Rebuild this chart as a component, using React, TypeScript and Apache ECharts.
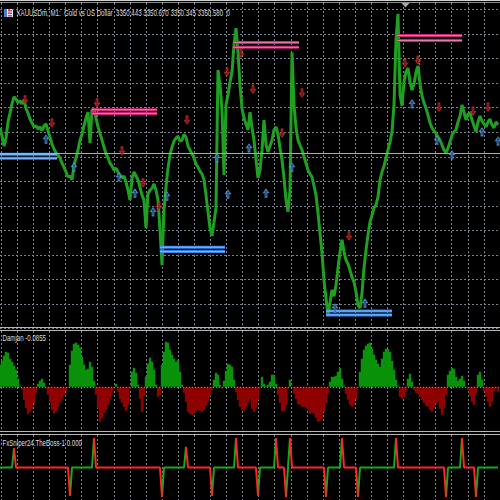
import React, { useEffect, useRef } from "react";
import * as echarts from "echarts";

// ---- data (bar index 0..249, one bar = 2px) ----
const closePrices = [
  3351.09, 3350.92, 3350.72, 3350.88, 3351.21, 3351.39, 3351.58, 3351.72, 3351.68, 3351.60,
  3351.64, 3351.58, 3351.66, 3351.49, 3351.39, 3351.27, 3351.19, 3351.11, 3351.13, 3351.07,
  3351.11, 3351.03, 3351.13, 3351.17, 3351.03, 3350.90, 3350.76, 3350.66, 3350.58, 3350.54,
  3350.48, 3350.37, 3350.29, 3350.19, 3350.09, 3350.11, 3350.03, 3350.33, 3350.48, 3350.64,
  3350.84, 3350.96, 3351.13, 3351.29, 3351.41, 3350.78, 3351.45, 3351.49, 3351.29, 3351.11,
  3350.98, 3350.84, 3350.70, 3350.56, 3350.48, 3350.37, 3350.31, 3350.23, 3350.27, 3350.19,
  3350.13, 3350.07, 3350.11, 3349.99, 3349.82, 3349.62, 3350.07, 3350.19, 3350.11, 3350.03,
  3349.88, 3349.72, 3349.62, 3349.05, 3349.74, 3349.82, 3349.86, 3349.95, 3349.82, 3349.62,
  3349.01, 3348.30, 3349.42, 3349.88, 3350.27, 3350.54, 3350.70, 3350.82, 3350.88, 3350.92,
  3350.82, 3350.84, 3350.96, 3350.90, 3350.72, 3350.64, 3350.56, 3350.48, 3350.35, 3350.29,
  3350.21, 3350.15, 3350.03, 3349.72, 3349.38, 3349.05, 3348.89, 3349.17, 3349.46, 3352.27,
  3351.96, 3351.45, 3350.13, 3351.56, 3351.76, 3352.02, 3352.23, 3352.78, 3353.12, 3352.63,
  3351.96, 3351.49, 3351.29, 3351.17, 3351.05, 3351.41, 3351.09, 3350.84, 3350.44, 3350.07,
  3350.23, 3350.64, 3351.25, 3350.74, 3350.60, 3350.72, 3350.84, 3351.05, 3351.11, 3350.96,
  3350.68, 3350.44, 3350.07, 3349.62, 3349.38, 3349.82, 3352.63, 3351.56, 3351.09, 3350.84,
  3350.74, 3350.64, 3350.50, 3350.37, 3350.23, 3350.15, 3350.09, 3349.91, 3349.72, 3349.36,
  3348.95, 3348.54, 3347.99, 3347.62, 3347.28, 3347.54, 3347.79, 3347.66, 3347.89, 3348.24,
  3348.56, 3348.81, 3348.56, 3348.40, 3348.32, 3348.19, 3348.05, 3347.95, 3347.75, 3347.48,
  3347.42, 3347.73, 3348.24, 3348.60, 3348.91, 3349.17, 3349.31, 3349.46, 3349.52, 3349.68,
  3350.03, 3350.19, 3350.31, 3350.48, 3350.64, 3350.80, 3351.01, 3351.56, 3352.88, 3353.41,
  3351.76, 3351.54, 3352.02, 3352.23, 3352.31, 3352.02, 3351.86, 3351.98, 3352.23, 3352.35,
  3351.98, 3351.74, 3351.60, 3351.49, 3351.35, 3351.19, 3351.09, 3351.03, 3350.98, 3350.90,
  3350.84, 3350.74, 3350.64, 3350.58, 3350.68, 3350.80, 3350.94, 3351.01, 3351.05, 3351.21,
  3351.33, 3351.56, 3351.41, 3351.25, 3351.37, 3351.39, 3351.25, 3351.13, 3351.01, 3351.21,
  3351.33, 3351.23, 3351.17, 3351.11, 3351.21, 3351.27, 3351.15, 3351.09, 3351.21, 3351.15,
];

const damjanValues = [
  0.374, 0.442, 0.527, 0.595, 0.578, 0.476, 0.425, 0.357, 0.289, 0.136,
  0.017, -0.051, -0.221, -0.357, -0.459, -0.425, -0.391, -0.272, -0.102, 0.051,
  0.102, 0.136, 0.068, -0.034, -0.136, -0.255, -0.391, -0.459, -0.425, -0.34,
  -0.255, -0.204, -0.136, -0.068, -0.017, 0.374, 0.612, 0.731, 0.748, 0.714,
  0.663, 0.51, 0.374, 0.289, 0.306, 0.425, 0.34, 0.102, -0.136, -0.374,
  -0.595, -0.527, -0.442, -0.391, -0.306, -0.204, -0.102, -0.034, 0.051, -0.085,
  -0.204, -0.272, -0.34, -0.408, -0.306, -0.034, 0.255, 0.323, 0.238, 0.034,
  -0.204, -0.425, -0.153, 0.17, 0.391, 0.493, 0.425, 0.289, 0.034, -0.17,
  -0.136, 0.374, 0.595, 0.765, 0.748, 0.629, 0.544, 0.476, 0.425, 0.459,
  0.255, 0.034, -0.102, -0.255, -0.425, -0.459, -0.476, -0.442, -0.408, -0.391,
  -0.408, -0.425, -0.391, -0.323, -0.255, -0.153, -0.051, 0.119, 0.238, 0.204,
  0.034, -0.034, 0.102, 0.272, 0.391, 0.374, 0.34, 0.119, -0.085, -0.221,
  -0.34, -0.391, -0.408, -0.34, -0.272, -0.204, -0.374, -0.425, -0.357, -0.221,
  -0.034, 0.17, 0.051, 0.017, 0.034, 0.085, 0.204, 0.204, 0.051, -0.136,
  -0.272, -0.408, -0.425, -0.306, -0.034, 0.119, -0.017, -0.119, -0.204, -0.289,
  -0.306, -0.34, -0.34, -0.357, -0.391, -0.459, -0.442, -0.459, -0.527, -0.595,
  -0.578, -0.544, -0.425, -0.272, -0.102, 0.085, 0.17, 0.17, 0.187, 0.255,
  0.323, 0.136, 0.017, -0.119, -0.221, -0.306, -0.34, -0.306, -0.204, -0.017,
  0.255, 0.476, 0.629, 0.697, 0.731, 0.748, 0.646, 0.544, 0.459, 0.391,
  0.34, 0.476, 0.595, 0.646, 0.646, 0.595, 0.442, 0.289, 0.119, 0.017,
  -0.17, -0.204, -0.17, -0.085, 0.136, 0.221, 0.085, -0.051, -0.102, -0.119,
  -0.17, -0.221, -0.272, -0.323, -0.34, -0.391, -0.425, -0.357, -0.289, -0.255,
  -0.374, -0.476, -0.357, -0.136, 0.204, 0.272, 0.323, 0.306, 0.17, 0.102,
  0.136, 0.187, 0.102, -0.017, -0.051, -0.153, -0.255, -0.306, -0.119, 0.204,
  0.255, 0.119, -0.068, -0.17, -0.255, -0.34, -0.255, -0.068, -0.034, -0.0855,
];

// [bar index, spike value]; every spike flips the line colour (green <-> red)
const sniperSpikes: [number, number][] = [
  [7, 0.65], [35, -0.95], [47, 1], [81, -1], [93, 0.7], [106, -0.95],
  [118, 1], [129, -0.95], [138, 1], [143, -1], [145, 1], [163, -1],
  [171, 1], [179, -1], [198, 1], [223, -1], [231, 1], [238, -1],
];

// signal arrows [bar index, price]
const sellSignals: [number, number][] = [
  [12.5, 3351.66], [26, 3351.19], [48.5, 3351.6], [61, 3350.62], [71.5, 3349.97],
  [79.5, 3349.5], [93.5, 3351.25], [113.5, 3352.23], [120.5, 3352.61], [126.5, 3351.88],
  [141, 3350.98], [151, 3351.8], [174.5, 3348.89], [202.5, 3352.41], [209, 3352.47],
  [219.5, 3351.51], [236.5, 3351.43], [244, 3351.51],
];
const buySignals: [number, number][] = [
  [23, 3350.86], [37, 3350.29], [59.5, 3350.09], [67.5, 3349.76], [76.5, 3349.38],
  [83.5, 3349.7], [108.5, 3350.48], [114, 3349.74], [124.5, 3350.68], [133, 3349.76],
  [146, 3350.29], [167.5, 3347.42], [182.5, 3347.52], [206, 3351.58], [218.5, 3350.84],
  [226, 3350.54], [241, 3351.01], [249, 3350.82],
];

// support / resistance zones: [from bar, to bar, upper price, lower price]
const supportLevels: [number, number, number, number][] = [
  [0, 28.5, 3350.55, 3350.47],
  [80, 112.5, 3348.66, 3348.57],
  [163, 196, 3347.36, 3347.28],
];
const resistanceLevels: [number, number, number, number][] = [
  [46, 78.5, 3351.46, 3351.38],
  [116.5, 149.5, 3352.83, 3352.73],
  [198.5, 231, 3352.97, 3352.87],
];

const bidPrice = 3350.58;
const titleText = "XAUUSDm, M1:  Gold vs US Dollar  3350.443 3350.670 3350.345 3350.580  0";
const damjanLabel = "Damjan -0.0855";
const sniperLabel = "FxSniper24.TheBoss-1 0.000";

const GRID_COLOR = "#77808c";
const PRICE_GREEN = "#20a020";

function buildOption() {
  const n = damjanValues.length;

  // sniper line split into coloured runs
  const sniperValues: number[] = new Array(n).fill(0);
  sniperSpikes.forEach(([i, v]) => (sniperValues[i] = v));
  const segColor: string[] = [];
  let state = "g";
  let k = 0;
  for (let i = 0; i < n - 1; i++) {
    while (k < sniperSpikes.length && sniperSpikes[k][0] <= i) {
      state = state === "g" ? "r" : "g";
      k++;
    }
    segColor[i] = state;
  }
  const runData = (c: string) =>
    sniperValues.map((v, i) =>
      segColor[i - 1] === c || segColor[i] === c ? [i, v] : [i, null]
    );

  const levelSeries: any[] = [];
  const addLevels = (levels: [number, number, number, number][], outer: string, inner: string) => {
    levels.forEach(([a, b, up, lo]) => {
      [up, lo].forEach((p) => {
        levelSeries.push({
          type: "line", xAxisIndex: 0, yAxisIndex: 0, symbol: "none", silent: true, z: 4,
          data: [[a, p], [b, p]], lineStyle: { color: outer, width: 3 },
        });
        levelSeries.push({
          type: "line", xAxisIndex: 0, yAxisIndex: 0, symbol: "none", silent: true, z: 5,
          data: [[a, p], [b, p]], lineStyle: { color: inner, width: 1 },
        });
      });
    });
  };
  addLevels(supportLevels, "#2f7fe6", "#8cc2ff");
  addLevels(resistanceLevels, "#c4246f", "#f07ab4");

  const dashed = { show: true, lineStyle: { color: GRID_COLOR, type: [2, 2], width: 1 } };
  const hiddenX = (gi: number) => ({ type: "value", gridIndex: gi, min: 0, max: 250, show: false });
  const vGridX = (gi: number) => ({
    type: "value", gridIndex: gi, min: 0, max: 31, interval: 1,
    axisLine: { show: false }, axisTick: { show: false }, axisLabel: { show: false },
    splitLine: dashed,
  });

  const upArrow = "path://M4,0L8,4L5.6,4L5.6,9L2.4,9L2.4,4L0,4Z";
  const downArrow = "path://M2.4,0L5.6,0L5.6,5L8,5L4,9L0,5L2.4,5Z";

  const txt = (x: number, y: number, text: string) => ({
    type: "text", x, y, scaleX: 0.68, z: 50,
    style: {
      text, fill: "#dedede", fontSize: 9, fontFamily: "Liberation Sans, Arial, sans-serif",
      verticalAlign: "middle",
    },
  });
  const hline = (y: number, color: string) => ({
    type: "line", z: 40, shape: { x1: 0, y1: y, x2: 500, y2: y }, style: { stroke: color, lineWidth: 1 },
  });

  return {
    animation: false,
    backgroundColor: "#000000",
    grid: [
      { left: 0, right: 0, top: 9.5, height: 319.2 },
      { left: 0, right: 0, top: 332, height: 99 },
      { left: 0, right: 0, top: 435, height: 65 },
      { left: 1.2, right: -1.2, top: 3, height: 324 },
      { left: 1.2, right: -1.2, top: 331, height: 100 },
      { left: 1.2, right: -1.2, top: 435, height: 65 },
    ],
    xAxis: [hiddenX(0), hiddenX(1), hiddenX(2), vGridX(3), vGridX(4), vGridX(5)],
    yAxis: [
      {
        type: "value", gridIndex: 0, min: 3347.0, max: 3353.5, interval: 0.5,
        axisLine: { show: false }, axisTick: { show: false }, axisLabel: { show: false },
        splitLine: dashed,
      },
      { type: "value", gridIndex: 1, min: -0.75, max: 0.93, show: false },
      { type: "value", gridIndex: 2, min: -1.1, max: 1.1, show: false },
      { type: "value", gridIndex: 3, min: 0, max: 1, show: false },
      { type: "value", gridIndex: 4, min: 0, max: 1, show: false },
      { type: "value", gridIndex: 5, min: 0, max: 1, show: false },
    ],
    series: [
      {
        type: "line", name: "XAUUSDm", xAxisIndex: 0, yAxisIndex: 0, z: 3,
        data: closePrices.map((p, i) => [i, p]),
        showSymbol: false, symbol: "none",
        lineStyle: { color: PRICE_GREEN, width: 3 },
        markLine: {
          silent: true, symbol: "none", label: { show: false },
          lineStyle: { color: "#a9a9a9", type: "solid", width: 1 },
          data: [{ yAxis: bidPrice }],
        },
      },
      ...levelSeries,
      {
        type: "scatter", name: "sell", xAxisIndex: 0, yAxisIndex: 0, z: 6,
        data: sellSignals, symbol: downArrow, symbolSize: [5, 8],
        itemStyle: { color: "#8a1414", borderColor: "#cc3030", borderWidth: 1 },
      },
      {
        type: "scatter", name: "buy", xAxisIndex: 0, yAxisIndex: 0, z: 6,
        data: buySignals, symbol: upArrow, symbolSize: [5, 8],
        itemStyle: { color: "#1d4a7e", borderColor: "#5b9fe2", borderWidth: 1 },
      },
      {
        type: "bar", name: "Damjan", xAxisIndex: 1, yAxisIndex: 1, barWidth: 2.4,
        data: damjanValues.map((v, i) => [i, v]),
        itemStyle: { color: (p: any) => (p.value[1] >= 0 ? "#0a920a" : "#8e0202") },
        markLine: {
          silent: true, symbol: "none", label: { show: false },
          lineStyle: { color: "#8a8a8a", type: [1, 2], width: 1 },
          data: [{ yAxis: 0 }],
        },
      },
      {
        type: "line", name: "sniper-green", xAxisIndex: 2, yAxisIndex: 2, symbol: "none",
        data: runData("g"), lineStyle: { color: "#1ca61c", width: 2 }, z: 3,
      },
      {
        type: "line", name: "sniper-red", xAxisIndex: 2, yAxisIndex: 2, symbol: "none",
        data: runData("r"), lineStyle: { color: "#ff2626", width: 2 }, z: 4,
      },
    ],
    graphic: [
      hline(0.5, "#d0d0d0"),
      hline(2.5, "#8c8c8c"),
      hline(327.5, "#b8b8b8"),
      hline(330.5, "#b8b8b8"),
      hline(431.5, "#b8b8b8"),
      hline(434.5, "#b8b8b8"),
      {
        type: "polygon", z: 41,
        shape: { points: [[401.5, 3], [409.5, 3], [405.5, 7.5]] },
        style: { fill: "#a6a6a6" },
      },
      {
        type: "group", z: 45,
        children: [
          { type: "rect", shape: { x: 4, y: 9, width: 9, height: 8 }, style: { fill: "#e6ecf6" } },
          { type: "rect", shape: { x: 4, y: 9, width: 3, height: 8 }, style: { fill: "#4a7fd0" } },
          { type: "rect", shape: { x: 8, y: 10, width: 4, height: 1.5 }, style: { fill: "#d8405a" } },
          { type: "rect", shape: { x: 8, y: 12.5, width: 4, height: 1.5 }, style: { fill: "#d8405a" } },
          { type: "rect", shape: { x: 8, y: 15, width: 4, height: 1.5 }, style: { fill: "#d8405a" } },
        ],
      },
      txt(16.5, 13.5, titleText),
      txt(2.5, 338.5, damjanLabel),
      txt(2.5, 443.5, sniperLabel),
    ],
  };
}

export default function App() {
  const ref = useRef<HTMLDivElement>(null);
  useEffect(() => {
    if (!ref.current) return;
    const chart = echarts.init(ref.current, undefined, { renderer: "svg" });
    chart.setOption(buildOption() as any);
    return () => chart.dispose();
  }, []);
  return (
    <div
      ref={ref}
      style={{ position: "fixed", left: 0, top: 0, width: 500, height: 500, background: "#000" }}
    />
  );
}
